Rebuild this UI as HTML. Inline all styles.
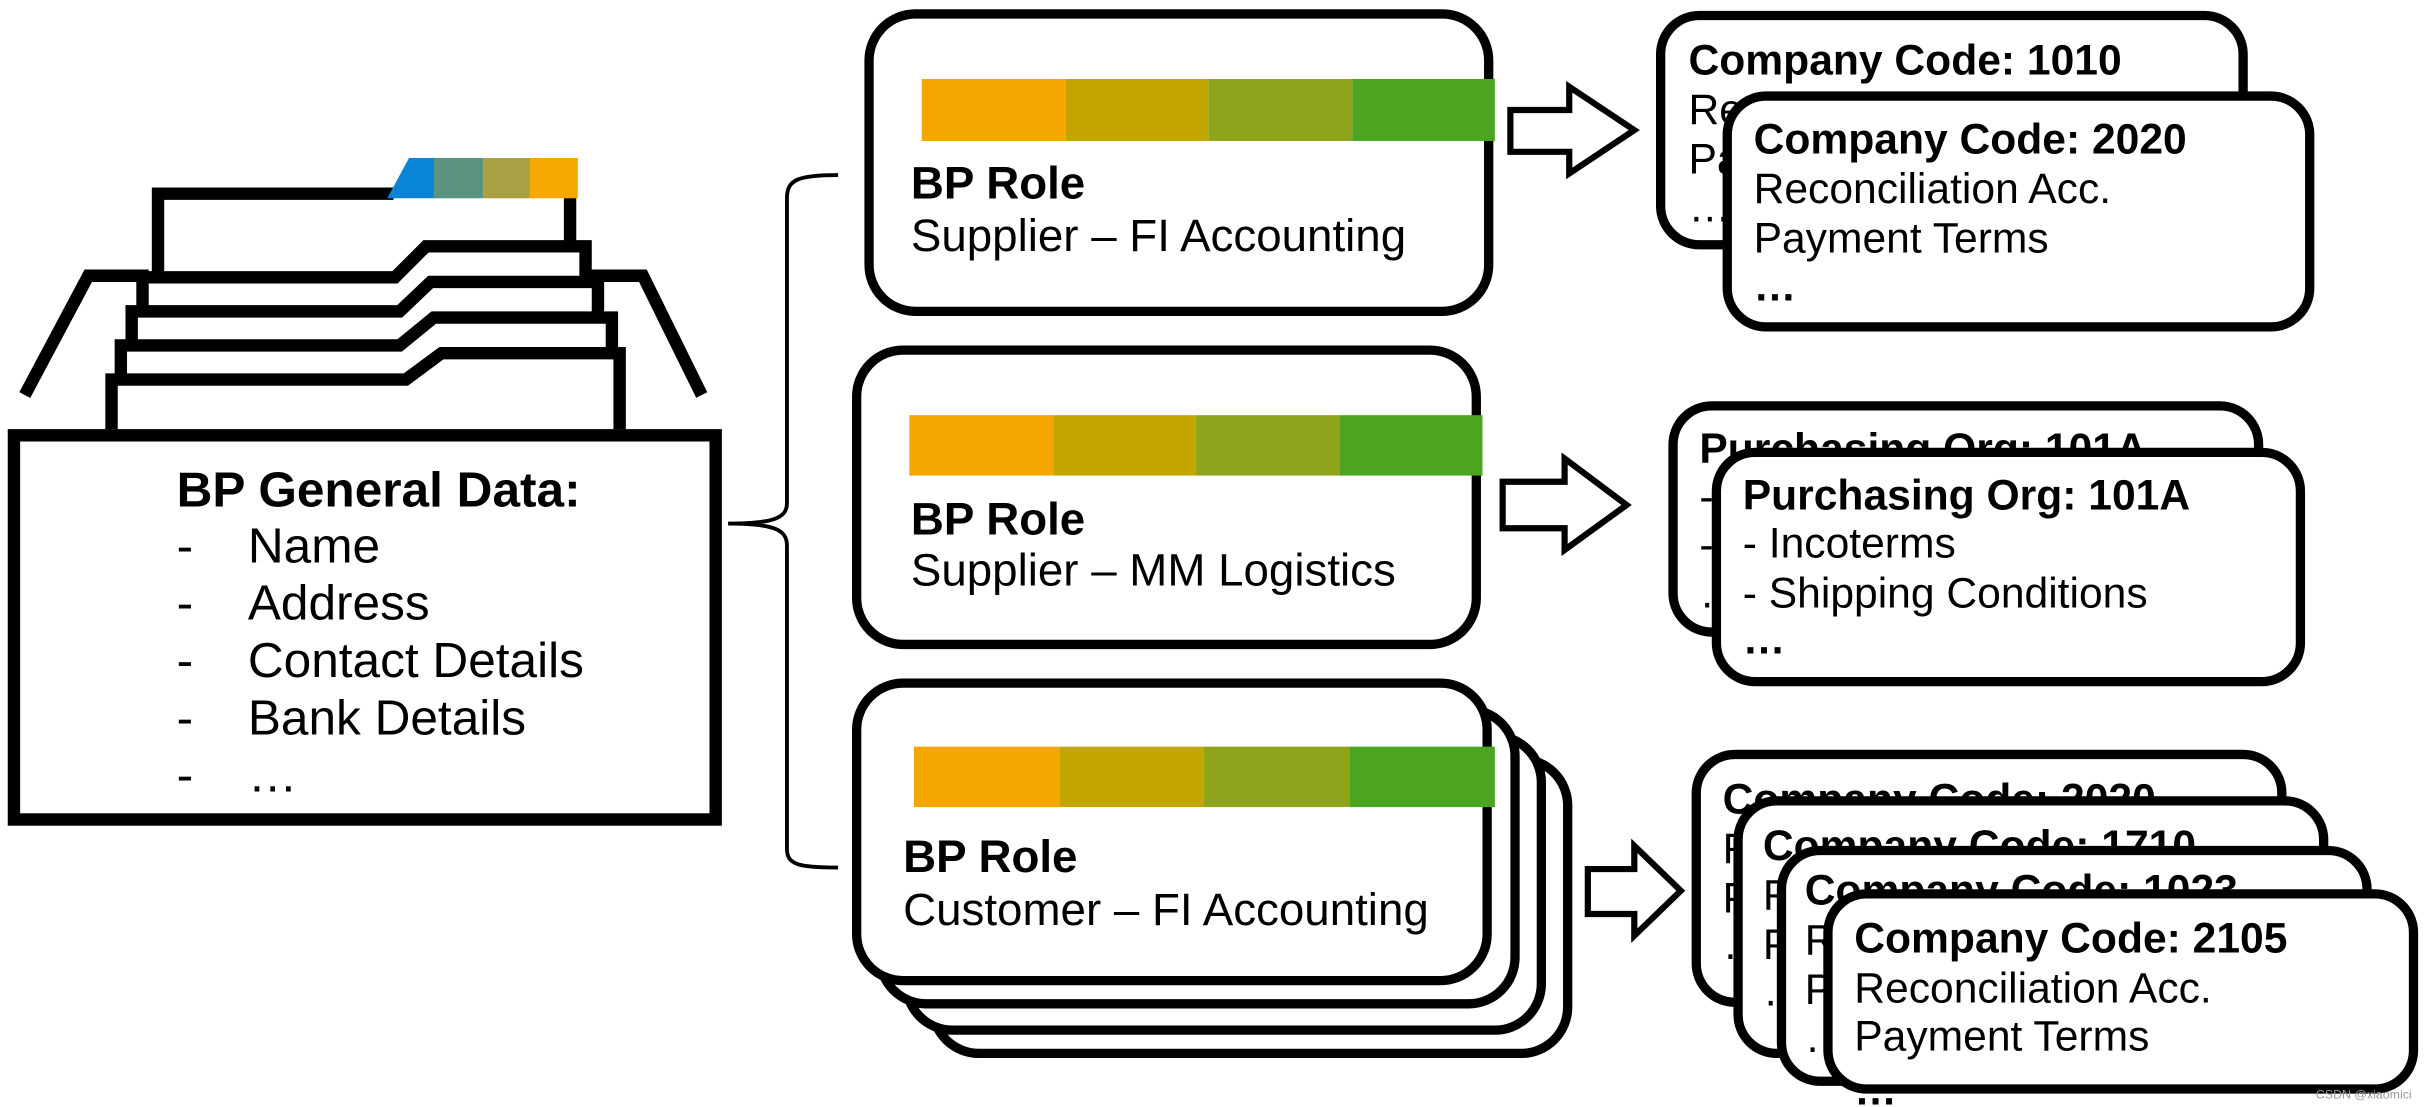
<!DOCTYPE html>
<html><head><meta charset="utf-8"><style>
html,body{margin:0;padding:0;background:#fff;}
svg{display:block;}
text{font-family:"Liberation Sans",Arial,sans-serif;fill:#000;}
.b{font-weight:bold;}
</style></head><body>
<svg width="2429" height="1107" viewBox="0 0 1568 714.6" preserveAspectRatio="none" xmlns="http://www.w3.org/2000/svg">
<rect width="1568" height="715" fill="#fff"/>
<!-- drawer -->
<g fill="none" stroke="#000" stroke-width="8" stroke-linejoin="miter">
<polyline points="102,180 102,125 254,125"/>
<polyline points="368,120 368,158"/>
<polyline points="16,255 57,178 96,178"/>
<polyline points="380,178 415,178 453,255"/>
<polyline points="92,202 92,179 255,179 275,159 378,159 378,180"/>
<polyline points="85,224 85,201 258,201 278,182 386,182 386,202"/>
<polyline points="78,246 78,223 258,223 280,205 395,205 395,224"/>
<polyline points="72,277 72,245 262,245 285,228 400,228 400,277"/>
<rect x="9" y="281" width="453" height="248"/>
</g>
<polygon points="250,128 264,102 281,102 281,128" fill="#0a84d6"/>
<rect x="280" y="102" width="32" height="26" fill="#5b937e"/>
<rect x="312" y="102" width="31" height="26" fill="#a9a043"/>
<rect x="342" y="102" width="31" height="26" fill="#f5a800"/>
<text class="b" x="114" y="327" font-size="32">BP General Data:</text>
<g font-size="32">
<text x="114" y="363">-</text><text x="160" y="363">Name</text>
<text x="114" y="400">-</text><text x="160" y="400">Address</text>
<text x="114" y="437">-</text><text x="160" y="437">Contact Details</text>
<text x="114" y="474">-</text><text x="160" y="474">Bank Details</text>
<text x="114" y="511">-</text><text x="160" y="511">…</text>
</g>
<!-- brace -->
<path d="M541,113 C515,113 508,116 508,128 L508,325 C508,334 500,338 470,338 C500,338 508,342 508,352 L508,548 C508,558 515,560 541,560" fill="none" stroke="#000" stroke-width="2.5"/>
<!-- role boxes -->
<g fill="#fff" stroke="#000" stroke-width="6">
<rect x="561" y="9" width="400" height="192" rx="30"/>
<rect x="553" y="226" width="400" height="190" rx="30"/>
<rect x="602" y="490" width="410" height="190" rx="30"/>
<rect x="585" y="475" width="410" height="190" rx="30"/>
<rect x="568" y="458" width="410" height="190" rx="30"/>
<rect x="553" y="441" width="407" height="192" rx="30"/>
</g>
<g>
<rect x="595" y="51" width="93" height="40" fill="#f5a700"/><rect x="688" y="51" width="92" height="40" fill="#c3a500"/><rect x="780" y="51" width="93" height="40" fill="#8fa41a"/><rect x="873" y="51" width="92" height="40" fill="#4ba520"/>
<rect x="587" y="268" width="93" height="39" fill="#f5a700"/><rect x="680" y="268" width="92" height="39" fill="#c3a500"/><rect x="772" y="268" width="93" height="39" fill="#8fa41a"/><rect x="865" y="268" width="92" height="39" fill="#4ba520"/>
<rect x="590" y="482" width="94" height="39" fill="#f5a700"/><rect x="684" y="482" width="93" height="39" fill="#c3a500"/><rect x="777" y="482" width="94" height="39" fill="#8fa41a"/><rect x="871" y="482" width="94" height="39" fill="#4ba520"/>
</g>
<g font-size="29.5">
<text class="b" x="588" y="128">BP Role</text><text x="588" y="162">Supplier – FI Accounting</text>
<text class="b" x="588" y="345">BP Role</text><text x="588" y="378">Supplier – MM Logistics</text>
<text class="b" x="583" y="563">BP Role</text><text x="583" y="597">Customer – FI Accounting</text>
</g>
<!-- arrows -->
<g fill="#fff" stroke="#000" stroke-width="4" stroke-linejoin="miter">
<polygon points="975,71 1013,71 1013,56 1055,84 1013,112 1013,98 975,98"/>
<polygon points="970,311 1010,311 1010,296 1050,326 1010,355 1010,341 970,341"/>
<polygon points="1025,561 1055,561 1055,546 1085,575 1055,604 1055,590 1025,590"/>
</g>
<!-- cards -->
<g font-size="27.5">
<rect x="1072" y="10" width="376" height="148" rx="25" fill="#fff" stroke="#000" stroke-width="6"/>
<text class="b" x="1090" y="48">Company Code: 1010</text><text x="1090" y="80">Reconciliation Acc.</text><text x="1090" y="112">Payment Terms</text><text x="1090" y="143">…</text>
<rect x="1115" y="62" width="376" height="149" rx="25" fill="#fff" stroke="#000" stroke-width="6"/>
<text class="b" x="1132" y="99">Company Code: 2020</text><text x="1132" y="131">Reconciliation Acc.</text><text x="1132" y="163">Payment Terms</text><text class="b" x="1132" y="194">…</text>

<rect x="1080" y="262" width="378" height="146" rx="25" fill="#fff" stroke="#000" stroke-width="6"/>
<text class="b" x="1097" y="299">Purchasing Org: 101A</text><text x="1097" y="330">- Incoterms</text><text x="1097" y="361">- Shipping Conditions</text><text x="1097" y="392">…</text>
<rect x="1108" y="292" width="377" height="148" rx="25" fill="#fff" stroke="#000" stroke-width="6"/>
<text class="b" x="1125" y="329">Purchasing Org: 101A</text><text x="1125" y="360">- Incoterms</text><text x="1125" y="392">- Shipping Conditions</text><text class="b" x="1125" y="422">…</text>

<rect x="1095" y="487" width="378" height="160" rx="25" fill="#fff" stroke="#000" stroke-width="6"/>
<text class="b" x="1112" y="525">Company Code: 2020</text><text x="1112" y="557">Reconciliation Acc.</text><text x="1112" y="589">Payment Terms</text><text x="1112" y="619">…</text>
<rect x="1122" y="517" width="378" height="163" rx="25" fill="#fff" stroke="#000" stroke-width="6"/>
<text class="b" x="1138" y="555">Company Code: 1710</text><text x="1138" y="587">Reconciliation Acc.</text><text x="1138" y="619">Payment Terms</text><text x="1138" y="649">…</text>
<rect x="1150" y="549" width="378" height="149" rx="25" fill="#fff" stroke="#000" stroke-width="6"/>
<text class="b" x="1165" y="584">Company Code: 1023</text><text x="1165" y="616">Reconciliation Acc.</text><text x="1165" y="648">Payment Terms</text><text x="1165" y="679">…</text>
<rect x="1180" y="577" width="378" height="126" rx="25" fill="#fff" stroke="#000" stroke-width="6"/>
<text class="b" x="1197" y="615">Company Code: 2105</text><text x="1197" y="647">Reconciliation Acc.</text><text x="1197" y="678">Payment Terms</text><text class="b" x="1197" y="713">…</text>
</g>
<text x="1495" y="709" font-size="8" style="fill:#999">CSDN @xiaomici</text>
</svg>
</body></html>
